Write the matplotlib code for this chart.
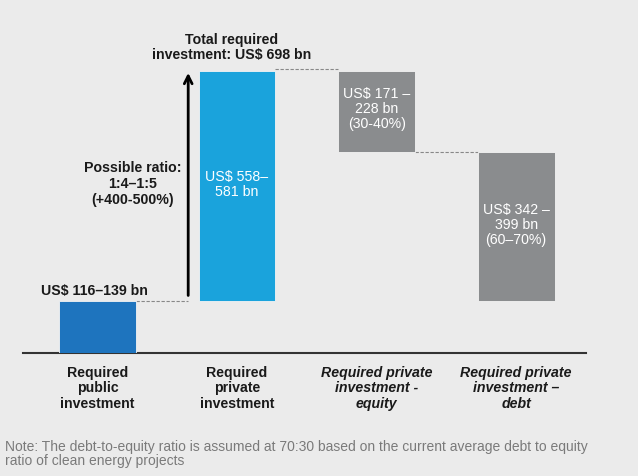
import matplotlib.pyplot as plt

plt.rcParams['font.family'] = ['Liberation Sans', 'DejaVu Sans']

# values in US$ bn (midpoints of the ranges shown)
categories = ["Required\npublic\ninvestment", "Required\nprivate\ninvestment",
              "Required private\ninvestment -\nequity", "Required private\ninvestment \u2013\ndebt"]
public_inv = 127.5
private_inv = 569.5
equity_inv = 199.5
debt_inv = 370.5
total_inv = 698

heights = [public_inv, private_inv, equity_inv, debt_inv]
bottoms = [0, public_inv, public_inv + debt_inv, public_inv]
colors = ["#1e74be", "#1aa3dc", "#8a8c8e", "#8a8c8e"]

bar_labels = ["", "US$ 558\u2013\n581 bn", "US$ 171 \u2013\n228 bn\n(30-40%)", "US$ 342 \u2013\n399 bn\n(60\u201370%)"]
bar_label_y = [0, 416, 604, 317]

bg = "#ebebeb"
fs = 10.2
fig = plt.figure(figsize=(6.38, 4.76), dpi=100, facecolor=bg)
ax = fig.add_axes([0.036, 0.2584, 0.8824, 0.6996])
ax.set_facecolor(bg)

x = list(range(len(categories)))
ax.bar(x, heights, bottom=bottoms, width=0.55, color=colors, edgecolor="#f4f4f4", linewidth=0.6, zorder=3)

ax.set_xlim(-0.534, 3.50)
ax.set_ylim(0, 824)

# white labels inside bars
for i, lab in enumerate(bar_labels):
    if lab:
        ax.text(x[i], bar_label_y[i], lab, ha="center", va="center",
                color="white", fontsize=fs, zorder=4, linespacing=1.1)

ax.text(-0.02, 153, "US$ 116\u2013139 bn", ha="center", va="center", fontsize=fs,
        fontweight="bold", color="#1a1a1a")

# arrow showing the ratio
arrow_x = 0.65
ax.annotate("", xy=(arrow_x, total_inv + 2), xytext=(arrow_x, public_inv + 8),
            arrowprops=dict(arrowstyle="->", color="black", lw=2, mutation_scale=14), zorder=5)

ax.text(0.25, 418, "Possible ratio:\n1:4\u20131:5\n(+400-500%)", ha="center", va="center",
        fontsize=fs, fontweight="bold", color="#1a1a1a", linespacing=1.15)

ax.text(0.964, 756, "Total required\ninvestment: US$ 698 bn", ha="center", va="center",
        fontsize=fs, fontweight="bold", color="#1a1a1a", linespacing=1.1)

# dashed connectors
dash = dict(color="#888888", lw=0.8, ls=(0, (3, 1.5)), zorder=2)
ax.plot([x[0] + 0.275, arrow_x], [public_inv, public_inv], **dash)
ax.plot([x[1] + 0.275, x[2] - 0.275], [total_inv + 4, total_inv + 4], **dash)
ax.plot([x[2] + 0.275, x[3] - 0.275], [public_inv + debt_inv, public_inv + debt_inv], **dash)

# axis styling
for s in ["top", "right", "left"]:
    ax.spines[s].set_visible(False)
ax.spines["bottom"].set_color("#333333")
ax.spines["bottom"].set_linewidth(1.5)
ax.set_yticks([])
ax.set_xticks(x)
ax.set_xticklabels(categories, fontsize=fs, fontweight="bold", color="#1a1a1a", linespacing=1.15)
ax.tick_params(axis="x", length=0, pad=9)
for t in ax.get_xticklabels()[2:]:
    t.set_style("italic")

fig.text(0.008, 0.046, "Note: The debt-to-equity ratio is assumed at 70:30 based on the current average debt to equity\n"
         "ratio of clean energy projects", fontsize=10, color="#7a7a7a", ha="left", va="center", linespacing=1.05)

fig.savefig("out.png", dpi=100, facecolor=bg)
